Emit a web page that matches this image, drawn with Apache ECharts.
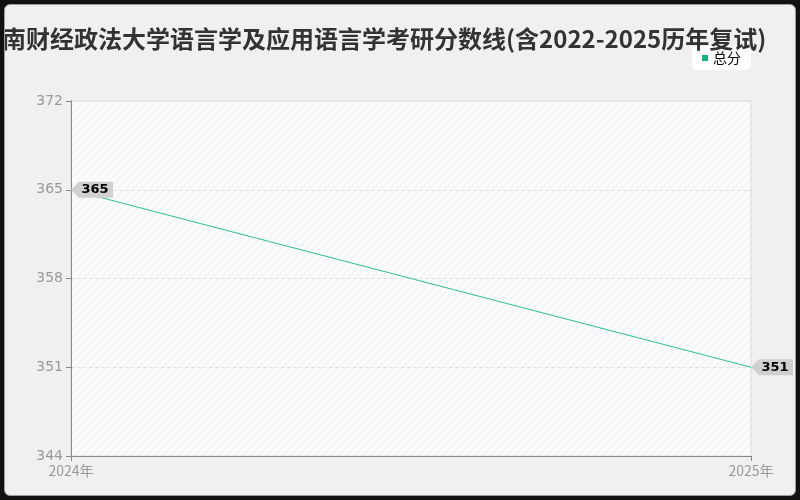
<!DOCTYPE html>
<html>
<head>
<meta charset="utf-8">
<script src="https://cdn.jsdelivr.net/npm/echarts@6/dist/echarts.min.js"></script>
<style>
  html, body { margin: 0; padding: 0; background: #111; }
  #wrap { position: absolute; left: 4px; top: 4px; width: 790px; height: 490px;
          background: #f0f0f0; border: 1px solid #999; border-radius: 6px; overflow: hidden; }
  #chart { position: absolute; left: -4px; top: -4px; width: 800px; height: 500px; }
</style>
</head>
<body>
<div id="wrap"><div id="chart"></div></div>
<script>
// 数据
var years = ['2024年', '2025年'];
var totalScore = [365, 351];
var yTicks = {min: 344, max: 372, step: 7};

// 斜线底纹
function makeHatch() {
    var c = document.createElement('canvas');
    c.width = 8; c.height = 8;
    var g = c.getContext('2d');
    g.fillStyle = '#fbfbfb';
    g.fillRect(0, 0, 8, 8);
    g.strokeStyle = '#eeeeee';
    g.lineWidth = 1;
    g.beginPath();
    g.moveTo(0, 8); g.lineTo(8, 0);
    g.moveTo(-2, 2); g.lineTo(2, -2);
    g.moveTo(6, 10); g.lineTo(10, 6);
    g.stroke();
    return c;
}

// 标签形状：左侧箭头
var tagPath = 'path://M0,8 L8,0 L42,0 L42,16 L8,16 Z';

var myChart = echarts.init(document.getElementById('chart'));
myChart.setOption({
    backgroundColor: 'transparent',
    title: {
        text: '中南财经政法大学语言学及应用语言学考研分数线(含2022-2025历年复试)',
        left: -28,
        top: 21,
        textStyle: { fontSize: 24, fontWeight: 'bold', color: '#333', fontFamily: 'Noto Sans CJK SC' }
    },
    legend: {
        data: ['总分'],
        right: 50,
        top: 45,
        backgroundColor: '#fff',
        borderRadius: 5,
        padding: [5, 10],
        itemWidth: 6,
        itemHeight: 6,
        itemGap: 6,
        icon: 'rect',
        textStyle: { fontSize: 14, color: '#000', fontFamily: 'Noto Sans CJK SC' }
    },
    grid: {
        left: 70, right: 50, top: 100, bottom: 45,
        show: true,
        borderColor: '#ddd',
        backgroundColor: { image: makeHatch(), repeat: 'repeat' }
    },
    xAxis: {
        type: 'category',
        data: years,
        boundaryGap: false,
        axisLine: { lineStyle: { color: '#888' } },
        axisTick: { show: true, lineStyle: { color: '#888' } },
        axisLabel: { color: '#999', fontSize: 14, fontFamily: 'Noto Sans CJK SC' }
    },
    yAxis: {
        type: 'value',
        min: yTicks.min,
        max: yTicks.max,
        interval: yTicks.step,
        axisLine: { show: true, lineStyle: { color: '#888' } },
        axisTick: { show: true, lineStyle: { color: '#888' } },
        axisLabel: { color: '#999', fontSize: 14, fontFamily: 'DejaVu Sans' },
        splitLine: { lineStyle: { color: '#e2e2e2', type: 'dashed' } }
    },
    series: [{
        name: '总分',
        type: 'line',
        data: totalScore,
        showSymbol: false,
        symbol: 'none',
        lineStyle: { color: '#2ec28b', width: 1 },
        itemStyle: { color: '#17b57e' },
        markPoint: {
            symbol: tagPath,
            symbolSize: [42, 16],
            symbolKeepAspect: false,
            symbolOffset: [21, 0],
            itemStyle: { color: '#d0d0d0' },
            label: {
                show: true,
                color: '#000',
                fontWeight: 'bold',
                fontSize: 13,
                fontFamily: 'DejaVu Sans',
                offset: [3, 0]
            },
            data: totalScore.map(function (v, i) {
                return { coord: [years[i], v], value: v };
            })
        }
    }]
});
</script>
</body>
</html>
